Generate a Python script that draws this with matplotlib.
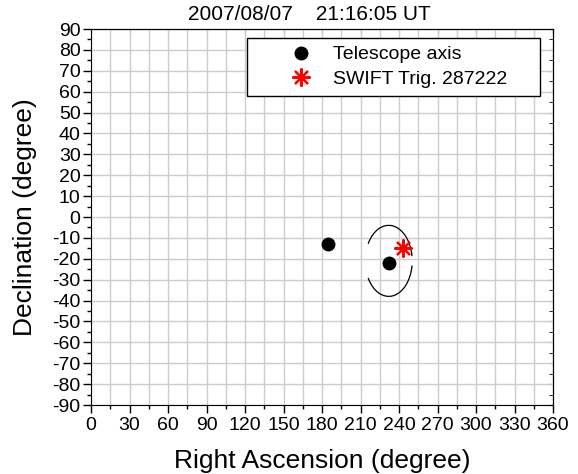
import matplotlib
matplotlib.use('Agg')
import matplotlib.pyplot as plt
from matplotlib.patches import Arc
from matplotlib.ticker import MultipleLocator

plt.rcParams['font.family'] = ['Liberation Sans', 'DejaVu Sans']
plt.rcParams['axes.unicode_minus'] = False

# telescope axis positions (RA, Dec)
tel_ra = [185, 232]
tel_dec = [-13, -22]
# SWIFT trigger position
swift_ra = [243]
swift_dec = [-15]
# field of view circle around the telescope axis
fov_center = (232, -21)
fov_width = 36.6
fov_height = 34
fov_arcs = [(7, 153), (207, 353)]

title = '2007/08/07    21:16:05 UT'

fig = plt.figure(figsize=(5.78, 4.74), dpi=100)
ax = fig.add_axes([91/578, 1-405/474, (553-91)/578, (405-29)/474])

ax.plot(tel_ra, tel_dec, 'o', color='black', markersize=9, label='Telescope axis', zorder=4)
ax.plot(swift_ra, swift_dec, linestyle='none', marker=(8, 2, 0), color='red',
        markersize=13, markeredgewidth=1.6, label='SWIFT Trig. 287222', zorder=5)
for t1, t2 in fov_arcs:
    ax.add_patch(Arc(fov_center, fov_width, fov_height, theta1=t1, theta2=t2,
                     color='black', linewidth=0.9, zorder=3))

ax.set_xlim(0, 360)
ax.set_ylim(-90, 90)
ax.xaxis.set_major_locator(MultipleLocator(30))
ax.xaxis.set_minor_locator(MultipleLocator(15))
ax.yaxis.set_major_locator(MultipleLocator(10))
ax.yaxis.set_minor_locator(MultipleLocator(5))
ax.grid(True, which='major', color='#cccccc', linewidth=1.0, zorder=0)
ax.grid(True, which='minor', axis='x', color='#cccccc', linewidth=1.0, zorder=0)
ax.set_axisbelow(True)

ax.tick_params(axis='both', which='both', direction='out', top=False, right=False,
               labelsize=14)
ax.tick_params(which='major', length=6, width=1)
ax.tick_params(which='minor', length=3, width=1)
ax.tick_params(axis='y', pad=1.5)
ax.tick_params(axis='x', pad=3)
ax2 = ax.secondary_xaxis('top')
ax2.xaxis.set_major_locator(MultipleLocator(30))
ax2.xaxis.set_minor_locator(MultipleLocator(15))
ax2.tick_params(which='both', direction='in', labeltop=False, length=3)
ax3 = ax.secondary_yaxis('right')
ax3.yaxis.set_major_locator(MultipleLocator(10))
ax3.yaxis.set_minor_locator(MultipleLocator(5))
ax3.tick_params(which='both', direction='in', labelright=False, length=3)

ax.set_xlabel('Right Ascension (degree)', fontsize=19, va='baseline')
ax.xaxis.set_label_coords(0.5, (405-468)/376)
ax.set_ylabel('Declination (degree)', fontsize=19, va='center')
ax.yaxis.set_label_coords((25-91)/462, 0.5)
fig.text(309/578, 1-14/474, title, fontsize=15, ha='center', va='center')

leg = ax.legend(loc='upper left', bbox_to_anchor=((247-91)/462, 0.5, (540-247)/462, (405-38)/376-0.5),
                bbox_transform=ax.transAxes, mode='expand',
                fontsize=14, frameon=True, fancybox=False, borderpad=0.4, handlelength=4.8,
                handletextpad=-0.79, labelspacing=0.36, borderaxespad=0)
leg.get_frame().set_edgecolor('black')
leg.get_frame().set_linewidth(1.0)
leg.get_frame().set_alpha(1)

fig.savefig('out.png', dpi=100)
